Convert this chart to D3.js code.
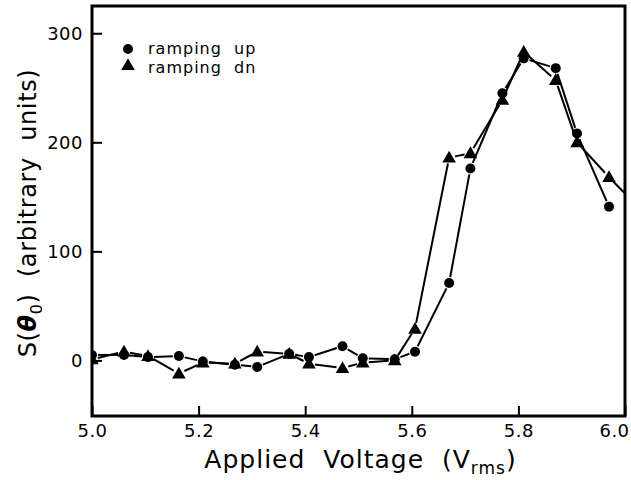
<!DOCTYPE html>
<html>
<head>
<meta charset="utf-8">
<script src="https://cdn.jsdelivr.net/npm/d3@7"></script>
<style>
  body { margin: 0; background: #fff; }
  text { font-family: "DejaVu Sans", "Liberation Sans", sans-serif; fill: #000; white-space: pre; }
</style>
</head>
<body>
<div id="chart"></div>
<script>
// applied voltage (V rms) for each measurement
var voltage = [5.00, 5.06, 5.105, 5.163, 5.208, 5.268, 5.31, 5.37, 5.407, 5.47,
               5.508, 5.568, 5.606, 5.67, 5.71, 5.77, 5.81, 5.87, 5.91, 5.97];
var rampUp = [5, 5, 3, 4, -1, -4, -6, 6, 3, 13, 2, 1, 8, 71, 176, 245, 277, 268, 208, 141];
var rampDn = [1, 8, 4, -12, -2, -3, 8, 6, -3, -7, -2, 0, 29, 186, 190, 239, 283, 257, 200, 168];
// the "dn" curve runs on past the right edge
var dnExtraV = [6.03];
var dnExtra = [138];

var xTicks = [5.0, 5.2, 5.4, 5.6, 5.8, 6.0];
var yTicks = [0, 100, 200, 300];

var margin = { left: 92, right: 6, top: 6, bottom: 64 };
var width = 631 - margin.left - margin.right,
    height = 480 - margin.top - margin.bottom;

var x = d3.scaleLinear().domain([5.0, 6.0]).range([0, width]);
var y = d3.scaleLinear().domain([-51, 325]).range([height, 0]);

var svg = d3.select("#chart")
    .append("svg")
        .attr("width", 631)
        .attr("height", 480)
    .append("g")
        .attr("transform", "translate(" + margin.left + "," + margin.top + ")");

svg.append("clipPath").attr("id", "plot-clip")
    .append("rect").attr("width", width).attr("height", height);

var upData = voltage.map(function(v, i){ return [v, rampUp[i]]; });
var dnData = voltage.map(function(v, i){ return [v, rampDn[i]]; })
    .concat(dnExtraV.map(function(v, i){ return [v, dnExtra[i]]; }));

var plot = svg.append("g").attr("clip-path", "url(#plot-clip)");

// segments drawn with a small gap around each marker
function drawSegments(data, gap){
    var segs = [];
    for (var i = 0; i < data.length - 1; i++) {
        var x0 = x(data[i][0]), y0 = y(data[i][1]),
            x1 = x(data[i+1][0]), y1 = y(data[i+1][1]);
        var dx = x1 - x0, dy = y1 - y0, len = Math.sqrt(dx*dx + dy*dy);
        var ux = dx / len, uy = dy / len;
        segs.push([x0 + ux*gap, y0 + uy*gap, x1 - ux*gap, y1 - uy*gap]);
    }
    plot.append("g").selectAll("line")
        .data(segs)
        .enter()
        .append("line")
        .attr("x1", function(d){ return d[0]; })
        .attr("y1", function(d){ return d[1]; })
        .attr("x2", function(d){ return d[2]; })
        .attr("y2", function(d){ return d[3]; })
        .attr("stroke", "black")
        .attr("stroke-width", 2);
}
drawSegments(upData, 6);
drawSegments(dnData, 6);

var tri = d3.symbol().type(d3.symbolTriangle).size(80);

plot.append("g").selectAll("circle")
    .data(upData)
    .enter()
    .append("circle")
    .attr("cx", function(d){ return x(d[0]); })
    .attr("cy", function(d){ return y(d[1]); })
    .attr("r", 5)
    .attr("fill", "black");

plot.append("g").selectAll("path")
    .data(dnData)
    .enter()
    .append("path")
    .attr("d", tri)
    .attr("transform", function(d){ return "translate(" + x(d[0]) + "," + (y(d[1]) + 1) + ")"; })
    .attr("fill", "black");

// axes (ticks point inward)
var xAxis = svg.append("g")
    .attr("transform", "translate(0," + height + ")")
    .call(d3.axisBottom(x).tickValues(xTicks).tickSize(-10).tickPadding(8)
        .tickFormat(d3.format(".1f")));
var yAxis = svg.append("g")
    .call(d3.axisLeft(y).tickValues(yTicks).tickSize(-10).tickPadding(9));

[xAxis, yAxis].forEach(function(a){
    a.select(".domain").remove();
    a.selectAll(".tick line").attr("stroke", "black").attr("stroke-width", 2);
    a.selectAll(".tick text")
        .attr("font-size", "18px")
        .style("font-family", "'DejaVu Sans', sans-serif")
        .style("letter-spacing", "0.5px");
});
// last label sits just inside the right edge
xAxis.selectAll(".tick text").filter(function(d){ return d === 6.0; }).attr("x", -11);

svg.append("rect")
    .attr("width", width)
    .attr("height", height)
    .attr("fill", "none")
    .attr("stroke", "black")
    .attr("stroke-width", 3);

// legend
var legend = svg.append("g").attr("transform", "translate(36,43)");
legend.append("circle").attr("cx", 0).attr("cy", 0).attr("r", 5).attr("fill", "black");
legend.append("path").attr("d", tri).attr("transform", "translate(0,17)").attr("fill", "black");
legend.append("text").attr("x", 20).attr("y", 5).attr("font-size", "16px")
    .style("letter-spacing", "1px").text("ramping  up");
legend.append("text").attr("x", 20).attr("y", 24).attr("font-size", "16px")
    .style("letter-spacing", "1px").text("ramping  dn");

// axis titles
var xt = svg.append("text")
    .attr("x", width / 2 + 2)
    .attr("y", height + 52)
    .attr("font-size", "25px")
    .style("letter-spacing", "1px")
    .attr("text-anchor", "middle");
xt.append("tspan").text("Applied  Voltage  (V");
xt.append("tspan").attr("font-size", "17px").attr("dy", 6).text("rms");
xt.append("tspan").attr("dy", -6).text(")");

var yt = svg.append("text")
    .attr("transform", "translate(-56," + (height / 2 + 2) + ") rotate(-90)")
    .attr("font-size", "24px")
    .style("letter-spacing", "0.6px")
    .attr("text-anchor", "middle");
yt.append("tspan").text("S(");
yt.append("tspan").attr("font-style", "italic").attr("font-weight", "bold").text("θ");
yt.append("tspan").attr("font-size", "16px").attr("dy", 6).text("0");
yt.append("tspan").attr("dy", -6).text(")  (arbitrary  units)");
</script>
</body>
</html>
